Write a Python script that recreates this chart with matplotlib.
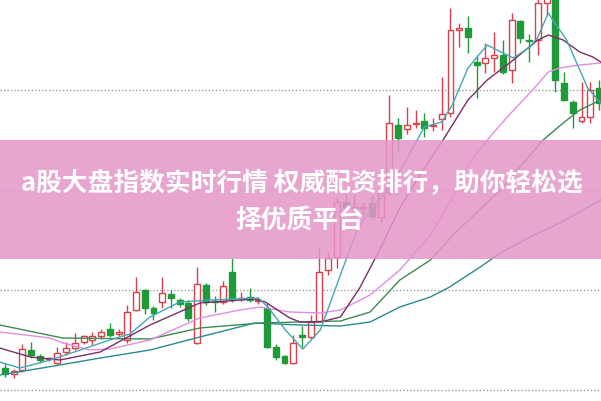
import matplotlib
matplotlib.use("Agg")
import matplotlib.pyplot as plt
import numpy as np

# ---- candle data (price units) ----
opens = [10.32, 10.26, 10.30, 10.50, 10.44, 10.41, 10.37, 10.48, 10.52, 10.58,
         10.60, 10.64, 10.71, 10.66, 10.60, 10.90, 11.10, 10.92, 10.98, 11.06,
         11.00, 10.97, 10.57, 11.15, 10.99, 10.98, 11.28, 11.01, 11.03, 10.99,
         10.92, 10.53, 10.44, 10.37, 10.65, 10.63, 10.79, 11.30, 11.43, 11.98,
         11.92, 11.92, 11.97, 11.83, 12.08, 12.75, 12.71, 12.76, 12.79, 12.74,
         12.81, 12.87, 13.70, 13.72, 13.38, 13.37, 13.42, 13.45, 13.30, 13.79,
         13.60, 13.60, 13.97, 14.05, 13.17, 12.98, 12.79, 12.83, 13.12]
highs = [10.37, 10.31, 10.56, 10.58, 10.46, 10.43, 10.53, 10.58, 10.67, 10.65,
         10.68, 10.71, 10.77, 10.71, 10.95, 11.23, 11.11, 10.94, 11.23, 11.10,
         11.02, 11.00, 11.33, 11.17, 11.04, 11.19, 11.42, 11.08, 11.12, 11.03,
         10.97, 10.56, 10.45, 10.65, 10.74, 10.85, 11.53, 11.48, 12.02, 12.07,
         12.05, 11.98, 12.05, 12.15, 13.05, 12.82, 12.93, 12.90, 12.87, 12.82,
         13.23, 13.92, 13.77, 13.84, 13.45, 13.57, 13.68, 13.60, 13.87, 13.80,
         13.66, 14.05, 14.12, 14.10, 13.28, 13.00, 13.18, 13.18, 13.20]
lows = [10.23, 10.22, 10.28, 10.42, 10.37, 10.39, 10.35, 10.45, 10.50, 10.56,
        10.55, 10.61, 10.63, 10.64, 10.57, 10.89, 10.86, 10.80, 10.92, 10.92,
        10.93, 10.79, 10.56, 10.95, 10.88, 10.96, 10.98, 10.99, 10.98, 10.96,
        10.52, 10.40, 10.36, 10.36, 10.53, 10.61, 10.78, 11.25, 11.32, 11.85,
        11.83, 11.85, 11.81, 11.78, 12.05, 12.48, 12.66, 12.72, 12.63, 12.69,
        12.70, 12.83, 13.53, 13.47, 13.02, 13.27, 13.28, 13.26, 13.17, 13.57,
        13.38, 13.45, 13.85, 13.08, 12.99, 12.72, 12.77, 12.77, 12.90]
closes = [10.26, 10.29, 10.51, 10.45, 10.40, 10.41, 10.47, 10.52, 10.57, 10.64,
          10.64, 10.68, 10.65, 10.68, 10.88, 11.08, 10.92, 10.87, 11.07, 11.02,
          10.96, 10.82, 11.16, 10.98, 10.98, 11.14, 11.00, 11.02, 11.00, 11.00,
          10.53, 10.43, 10.37, 10.57, 10.63, 10.78, 11.28, 11.42, 11.98, 11.93,
          11.93, 11.92, 11.84, 12.07, 12.77, 12.62, 12.75, 12.77, 12.72, 12.74,
          12.86, 13.70, 13.72, 13.63, 13.35, 13.42, 13.45, 13.28, 13.80, 13.62,
          13.59, 13.97, 14.08, 13.20, 13.00, 12.87, 12.83, 13.10, 12.97]

# ---- moving average readings (candle index, price) ----
ma5_x = [-0.6, 1.7, 5.2, 8.6, 12.0, 14.3, 16.6, 20.0, 23.5, 29.0, 30.1, 32.1, 34.1,
         36.1, 38.4, 40.3, 42.0, 44.0, 46.0, 48.0, 50.0, 51.2, 53.0, 55.2, 56.3,
         58.2, 60.1, 61.0, 62.2, 62.7, 64.3, 65.8, 66.7, 68.2]
ma5 = [10.38, 10.32, 10.40, 10.50, 10.60, 10.66, 10.83, 10.98, 11.00, 11.02, 10.93,
       10.70, 10.51, 10.70, 11.25, 11.70, 11.93, 12.11, 12.41, 12.73, 12.78, 12.95,
       13.32, 13.55, 13.50, 13.42, 13.53, 13.63, 13.87, 13.80, 13.60, 13.30, 13.12, 12.97]

ma10_x = [-0.6, 2.9, 6.3, 10.9, 16.6, 22.3, 28.6, 29.8, 32.6, 33.8, 36.1, 38.4, 40.6,
          43.0, 45.2, 47.5, 50.0, 53.0, 55.2, 58.2, 61.0, 62.2, 63.9, 65.8, 67.3, 68.2]
ma10 = [10.52, 10.43, 10.40, 10.48, 10.75, 10.97, 11.01, 10.98, 10.82, 10.78, 10.78,
        10.83, 11.12, 11.52, 11.92, 12.25, 12.58, 13.00, 13.20, 13.40, 13.60, 13.65,
        13.60, 13.48, 13.43, 13.38]

ma20_x = [-0.6, 5.2, 6.6, 9.7, 12.0, 16.6, 22.3, 26.9, 29.2, 32.6, 36.1, 38.4, 41.8,
          45.2, 48.7, 51.2, 53.2, 55.5, 57.5, 60.4, 62.2, 63.5, 65.8, 68.2]
ma20 = [10.68, 10.62, 10.57, 10.50, 10.51, 10.60, 10.82, 10.90, 10.93, 10.88, 10.87,
        10.90, 11.05, 11.30, 11.65, 12.02, 12.38, 12.63, 12.83, 13.10, 13.28, 13.32,
        13.35, 13.37]

ma30_x = [-0.6, 6.6, 16.6, 22.3, 29.2, 33.8, 38.4, 41.8, 45.2, 48.7, 51.3, 56.7, 61.6,
          63.9, 65.8, 68.2]
ma30 = [10.75, 10.62, 10.61, 10.72, 10.77, 10.78, 10.79, 10.88, 11.20, 11.40, 11.65,
        12.10, 12.60, 12.77, 12.90, 13.00]

ma60_x = [-0.6, 6.3, 10.9, 16.6, 22.3, 28.6, 33.8, 38.4, 41.8, 45.2, 48.7, 50.9, 54.4,
          56.7, 60.1, 63.5, 68.2]
ma60 = [10.25, 10.35, 10.42, 10.50, 10.63, 10.77, 10.75, 10.74, 10.78, 10.93, 11.03,
        11.13, 11.33, 11.47, 11.63, 11.77, 12.00]

grid_levels = [10.1, 11.1, 12.1, 13.1]
banner_low, banner_high = 11.41, 12.60
title_line1 = "a股大盘指数实时行情 权威配资排行，助你轻松选"
title_line2 = "择优质平台"

RED = "#d9404a"
GREEN = "#1f9a38"

fig = plt.figure(figsize=(6.01, 4.01), dpi=100)
ax = fig.add_axes([0, 0, 1, 1])
ax.set_xlim(-0.572, 68.23)
ax.set_ylim(9.99, 14.0)
ax.axis("off")

for g in grid_levels:
    ax.axhline(g, color="#9a9a9a", lw=1.0, ls=(0, (1, 1.5)), zorder=1)

idx = np.arange(len(opens))
o = np.array(opens); c = np.array(closes); h = np.array(highs); l = np.array(lows)
up = c >= o
cols = np.where(up, RED, GREEN)
ax.vlines(idx, l, h, colors=cols, lw=1.0, zorder=2)
bottoms = np.minimum(o, c)
heights = np.maximum(np.abs(c - o), 0.012)
ax.bar(idx[up], heights[up], bottom=bottoms[up], width=0.68, facecolor="white",
       edgecolor=RED, lw=1.0, zorder=3)
ax.bar(idx[~up], heights[~up], bottom=bottoms[~up], width=0.68, facecolor=GREEN,
       edgecolor=GREEN, lw=1.0, zorder=3)

ax.plot(ma60_x, ma60, color="#2b8a8e", lw=1.0, zorder=4)
ax.plot(ma30_x, ma30, color="#3e8a52", lw=1.0, zorder=4)
ax.plot(ma20_x, ma20, color="#e28de0", lw=1.0, zorder=4)
ax.plot(ma10_x, ma10, color="#7a2f68", lw=1.0, zorder=4)
ax.plot(ma5_x, ma5, color="#45a6b6", lw=1.0, zorder=4)

ax.axhspan(banner_low, banner_high, color="#e396c9", alpha=0.86, lw=0, zorder=5)

fam = ["Noto Sans CJK SC", "DejaVu Sans"]
fig.text(0.503, 1 - 183 / 401, title_line1, ha="center", va="center", color="white",
         fontsize=18.5, fontweight="bold", family=fam, zorder=6)
fig.text(0.499, 1 - 221 / 401, title_line2, ha="center", va="center", color="white",
         fontsize=18.5, fontweight="bold", family=fam, zorder=6)

fig.savefig("out.png", dpi=100)
